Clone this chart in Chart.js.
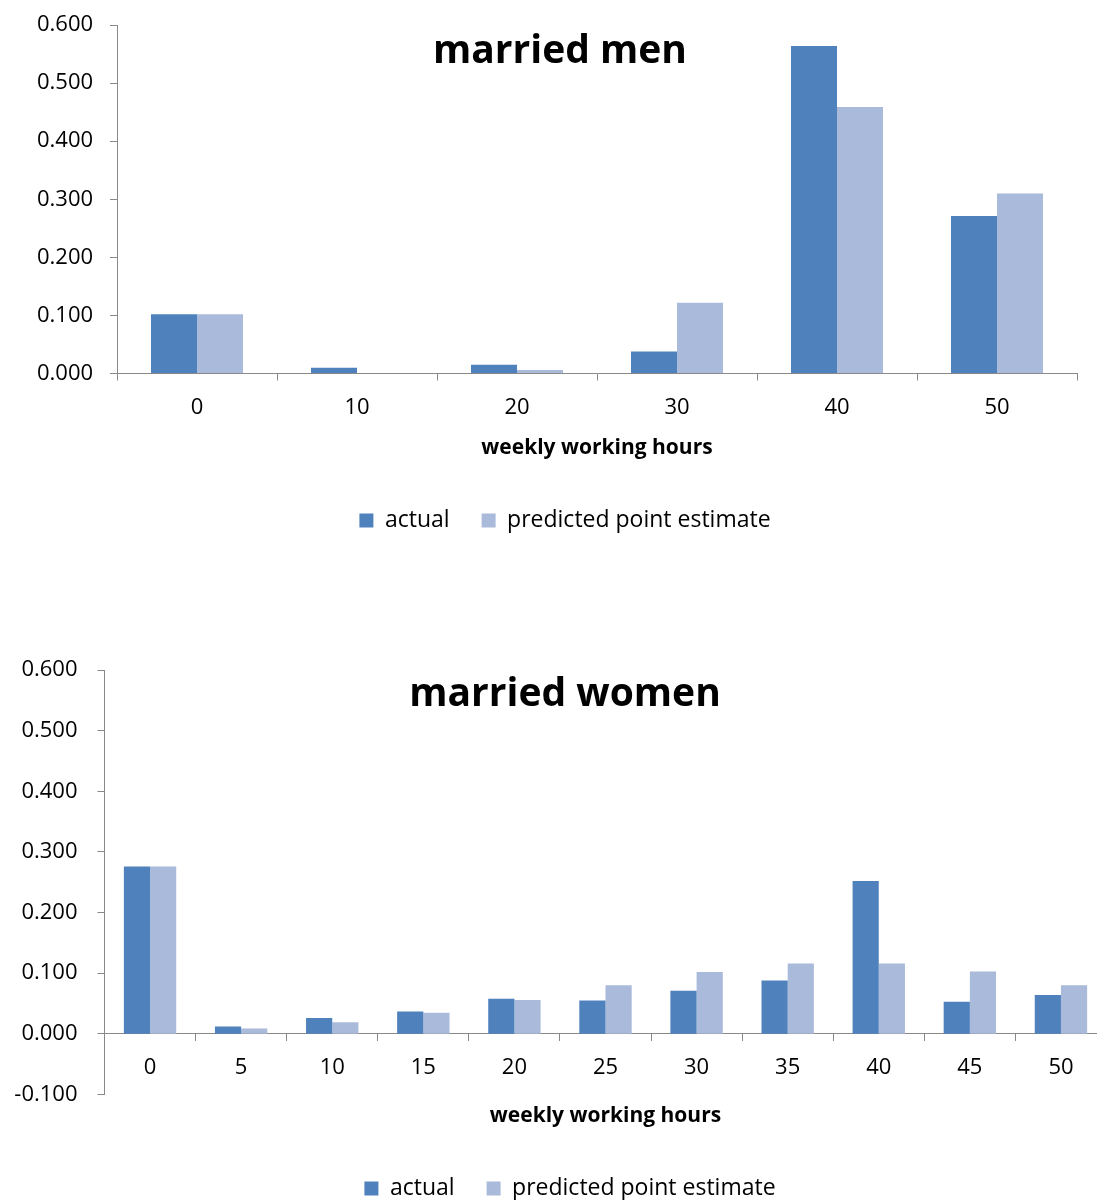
<!DOCTYPE html>
<html>
<head>
<meta charset="utf-8">
<script src="https://cdn.jsdelivr.net/npm/chart.js@4.4.1/dist/chart.umd.min.js"></script>
<style>
html, body { margin: 0; padding: 0; background: #fff; overflow: hidden; width: 1097px; height: 1200px; }
#haut { position: absolute; left: 0; top: 0; }
#bas { position: absolute; left: 0; top: 630px; }
</style>
</head>
<body>
<div id="haut"><canvas id="hommes" width="1097" height="542"></canvas></div>
<div id="bas"><canvas id="femmes" width="1110" height="580"></canvas></div>
<script>
// heures / parts
const heuresHommes = ["0", "10", "20", "30", "40", "50"];
const actuelHommes = [0.102, 0.010, 0.015, 0.038, 0.564, 0.271];
const predHommes = [0.102, 0.000, 0.006, 0.122, 0.459, 0.310];

const heuresFemmes = ["0", "5", "10", "15", "20", "25", "30", "35", "40", "45", "50"];
const actuelFemmes = [0.276, 0.012, 0.026, 0.037, 0.058, 0.055, 0.071, 0.088, 0.252, 0.053, 0.064];
const predFemmes = [0.276, 0.009, 0.019, 0.035, 0.056, 0.080, 0.102, 0.116, 0.116, 0.103, 0.080];

const nomsSeries = ["actual", "predicted point estimate"];
const couleurs = ["#4F81BD", "#AABADA"];
const gris = "#898989";

Chart.defaults.font.family = "'Open Sans', sans-serif";
Chart.defaults.color = "#000";

// titre dessiné dans la zone du graphique
const titreDedans = {
    id: "titreDedans",
    afterDraw(chart, args, opts) {
        const ctx = chart.ctx;
        ctx.save();
        ctx.font = "bold 39px 'Open Sans'";
        ctx.fillStyle = "#000";
        ctx.textAlign = "center";
        ctx.textBaseline = "alphabetic";
        ctx.fillText(opts.text, opts.x, opts.y);
        ctx.restore();
    }
};

// la légende n'est pas centrée sur la zone du graphique dans l'original
const decalerLegende = {
    id: "decalerLegende",
    afterLayout(chart, args, opts) {
        chart.legend.left += opts.dx;
        chart.legend.right += opts.dx;
    }
};

function creerGraphique(id, heures, actuel, pred, reglages) {
    new Chart(document.getElementById(id), {
        type: "bar",
        data: {
            labels: heures,
            datasets: [{
                label: nomsSeries[0],
                data: actuel,
                backgroundColor: couleurs[0],
                barPercentage: 1,
                categoryPercentage: 0.575
            }, {
                label: nomsSeries[1],
                data: pred,
                backgroundColor: couleurs[1],
                barPercentage: 1,
                categoryPercentage: 0.575
            }]
        },
        plugins: [titreDedans, decalerLegende],
        options: {
            responsive: false,
            animation: false,
            layout: { padding: reglages.padding },
            scales: {
                x: {
                    position: reglages.positionX,
                    grid: { offset: true, drawOnChartArea: false, tickLength: 7, color: gris },
                    border: { color: gris },
                    ticks: { font: { size: 22 }, padding: 14, color: "#000" },
                    afterFit: s => { if (reglages.hauteurX) s.height = reglages.hauteurX; }
                },
                y: {
                    min: reglages.min,
                    max: 0.6,
                    grid: { drawOnChartArea: false, tickLength: 7, color: gris },
                    border: { color: gris },
                    ticks: {
                        stepSize: 0.1,
                        font: { size: 22 },
                        padding: reglages.paddingY,
                        crossAlign: reglages.alignY,
                        color: "#000",
                        callback: v => (Math.round(v * 1000) / 1000).toFixed(3)
                    },
                    afterFit: s => { s.width = reglages.largeurY; }
                }
            },
            plugins: {
                titreDedans: reglages.titre,
                decalerLegende: { dx: reglages.dxLegende },
                title: {
                    display: true,
                    text: "weekly working hours",
                    position: "bottom",
                    fullSize: false,
                    weight: 500,
                    font: { size: 21, weight: "bold" },
                    color: "#000",
                    padding: reglages.paddingTitre
                },
                legend: {
                    position: "bottom",
                    labels: {
                        boxWidth: 14,
                        boxHeight: 14,
                        padding: 32,
                        font: { size: 23 },
                        color: "#000"
                    }
                },
                tooltip: { enabled: false }
            }
        }
    });
}

creerGraphique("hommes", heuresHommes, actuelHommes, predHommes, {
    padding: { left: 37, right: 20, top: 25, bottom: 0 },
    positionX: "bottom",
    hauteurX: 50,
    min: 0,
    largeurY: 80,
    paddingY: 0,
    alignY: "far",
    dxLegende: 8,
    paddingTitre: { top: 12.4, bottom: 15.9 },
    titre: { text: "married men", x: 560, y: 63 }
});

creerGraphique("femmes", heuresFemmes, actuelFemmes, predFemmes, {
    padding: { left: 10.5, right: 3.5, top: 40, bottom: 0 },
    positionX: { y: 0 },
    hauteurX: 0,
    min: -0.1,
    largeurY: 94,
    paddingY: 20,
    alignY: "near",
    dxLegende: 11.5,
    paddingTitre: { top: 9.4, bottom: 15.9 },
    titre: { text: "married women", x: 565, y: 76 }
});
</script>
</body>
</html>
